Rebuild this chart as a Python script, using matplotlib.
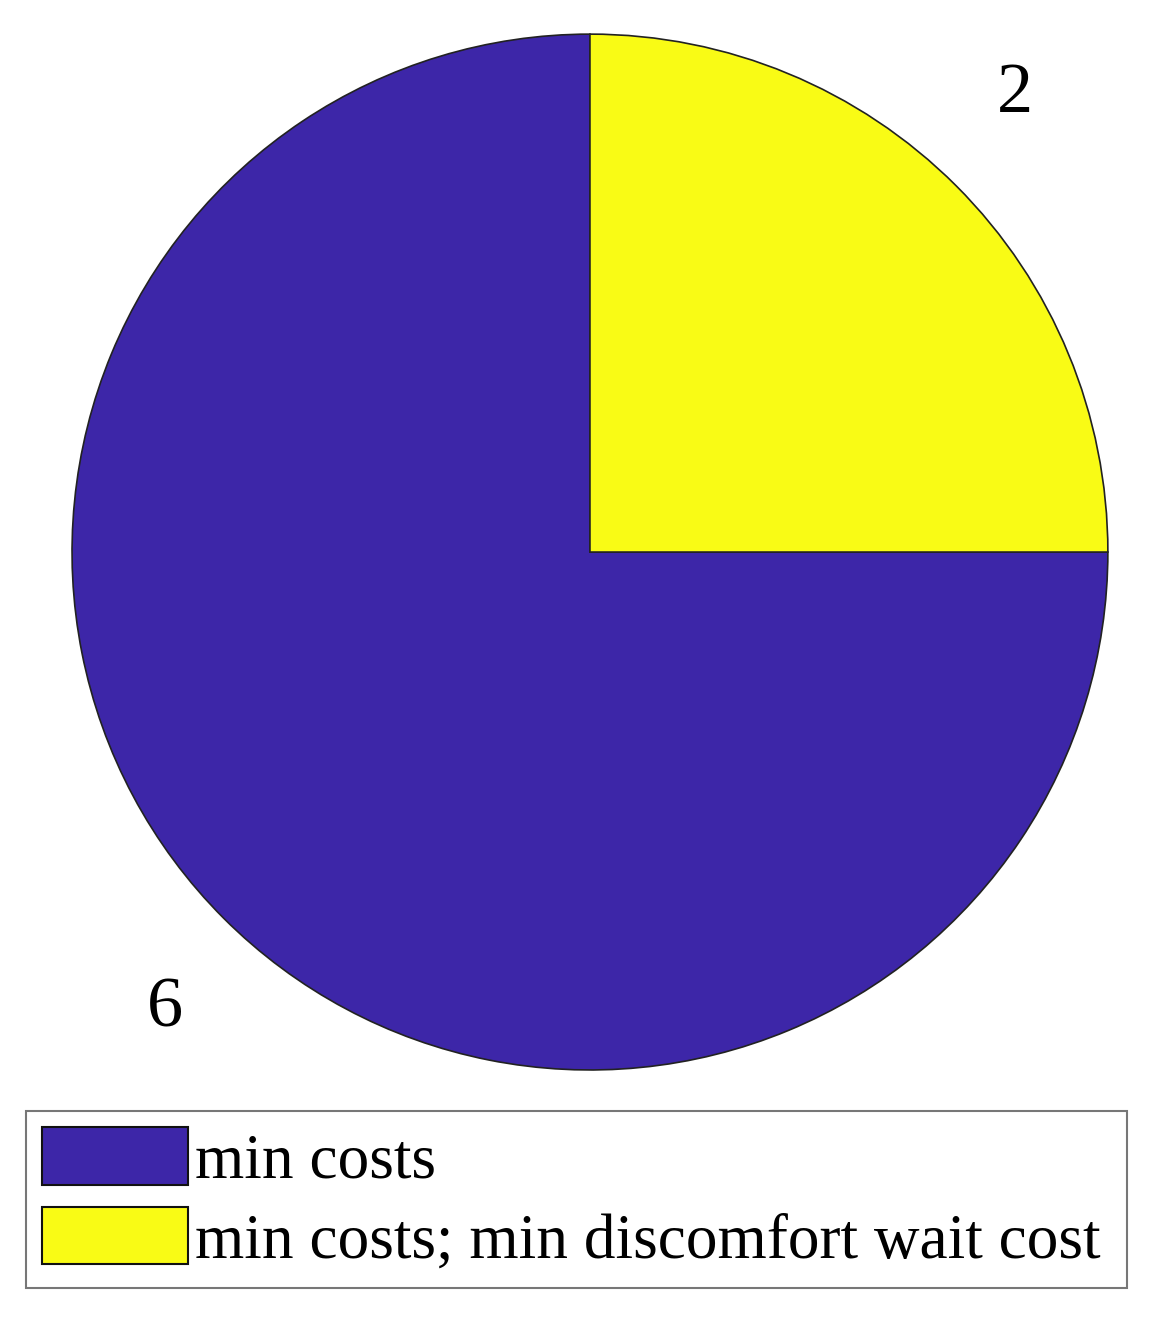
import matplotlib
matplotlib.use("Agg")
import matplotlib.pyplot as plt

categories = ["min costs", "min costs; min discomfort wait cost"]
values = [6, 2]
colors = ["#3d26a8", "#f9fb15"]

plt.rcParams['font.family'] = ['Liberation Serif', 'DejaVu Serif']

fig = plt.figure(figsize=(11.57, 13.28), dpi=100)
ax = fig.add_axes([0.0622, 0.1943, 0.8954, 0.780])
wedges, texts = ax.pie(values, labels=[str(v) for v in values], colors=colors,
                       startangle=90, counterclock=True, labeldistance=1.16,
                       wedgeprops=dict(edgecolor="#222222", linewidth=1.2),
                       textprops=dict(fontsize=52, color="black"),
                       radius=1.0)
for t in texts:
    x, y = t.get_position()
    t.set_ha("center")
    t.set_va("bottom" if y > 0 else "top")
ax.set_xlim(-1, 1)
ax.set_ylim(-1, 1)
ax.set_aspect("equal")
ax.axis("off")

leg = fig.legend(wedges, categories, loc="upper left",
                 bbox_to_anchor=(26/1157, 1 - 1292/1328, (1127-26)/1157, (1292-1111)/1328),
                 mode="expand", fontsize=45.5, fancybox=False, frameon=True, framealpha=1,
                 handlelength=2.3, handleheight=1.02, handletextpad=0.12,
                 borderpad=0.26, labelspacing=0.24, borderaxespad=0)
leg.get_frame().set_edgecolor("#777777")
leg.get_frame().set_linewidth(1.5)
for h in leg.legend_handles:
    h.set_edgecolor("#111111")
    h.set_linewidth(1.5)

fig.savefig("out.png", dpi=100)
